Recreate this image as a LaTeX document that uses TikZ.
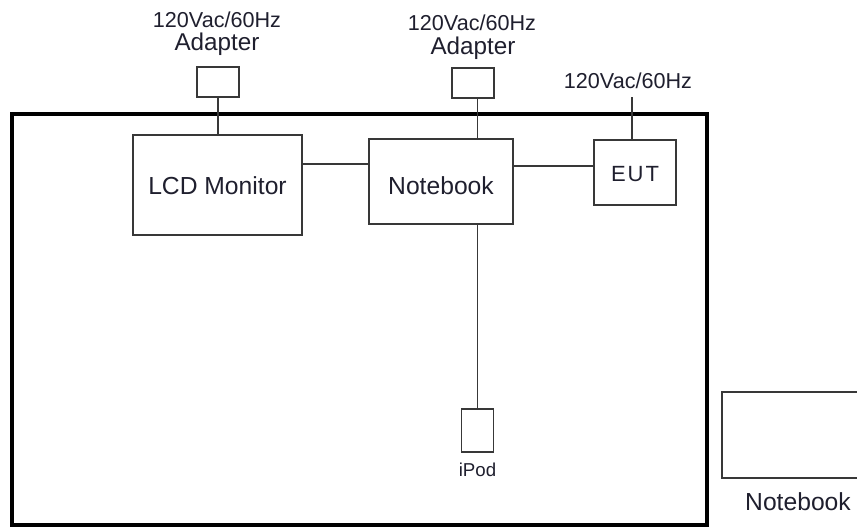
\documentclass[tikz,border=0pt]{standalone}
\usepackage{fontspec}
\setmainfont{Liberation Sans}
\definecolor{txt}{rgb}{0.12,0.12,0.18}
\definecolor{ln}{rgb}{0.22,0.22,0.22}
\begin{document}
\begin{tikzpicture}[x=0.75pt,y=-0.75pt,
  box/.style={draw=ln,line width=1.2pt,inner sep=0pt,anchor=center,text=txt},
  wire/.style={draw=ln,line width=1.2pt},
  lbl/.style={inner sep=0pt,anchor=base,text=txt},
  big/.style={font=\fontsize{18.5}{20}\selectfont},
  volt/.style={font=\fontsize{16.2}{18}\selectfont},
  adp/.style={font=\fontsize{18.2}{20}\selectfont}]
\useasboundingbox (0,0) rectangle (857,529);
% outer frame
\draw[line width=3pt,black] (12,114) rectangle (707,525);
% boxes
\node[box,big,minimum width=169*0.75pt,minimum height=100*0.75pt,text height=15pt] (lcd) at (217.5,185) {LCD Monitor};
\node[box,big,minimum width=144*0.75pt,minimum height=85*0.75pt,text height=20pt] (nb) at (441,181.5) {Notebook};
\node[box,font=\fontsize{16.5}{18}\selectfont\addfontfeature{LetterSpace=9},minimum width=82*0.75pt,minimum height=65*0.75pt,text height=14pt] (eut) at (635,172.5) {EUT};
\node[box,minimum width=42*0.75pt,minimum height=30*0.75pt] (ad1) at (218,82) {};
\node[box,minimum width=42*0.75pt,minimum height=30*0.75pt] (ad2) at (473,83) {};
\node[box,minimum width=32*0.75pt,minimum height=43*0.75pt] (ipod) at (477.5,430.5) {};
\node[box,minimum width=150*0.75pt,minimum height=86*0.75pt] (nb2) at (797,435) {};
% labels
\node[lbl,volt] (v1) at (217,27) {120Vac/60Hz};
\node[lbl,adp] (a1) at (217,50) {Adapter};
\node[lbl,volt] (v2) at (472,30) {120Vac/60Hz};
\node[lbl,adp] (a2) at (473,54) {Adapter};
\node[lbl,volt] (v3) at (628,88) {120Vac/60Hz};
\node[lbl,font=\fontsize{14}{16}\selectfont] (ipl) at (477.5,476) {iPod};
\node[lbl,big] (nbl) at (798,510) {Notebook};
% connectors
\coordinate (h1) at (0,164);
\coordinate (h2) at (0,166);
\coordinate (pw) at (632,97);
\draw[wire] (ad1.south) -- (lcd.north -| ad1.south);
\draw[wire] (ad2.south -| ipod.north) -- (nb.north -| ipod.north);
\draw[wire] (nb.south -| ipod.north) -- (ipod.north);
\draw[wire] (lcd.east |- h1) -- (nb.west |- h1);
\draw[wire] (nb.east |- h2) -- (eut.west |- h2);
\draw[wire] (pw) -- (eut.north -| pw);
\end{tikzpicture}
\end{document}
